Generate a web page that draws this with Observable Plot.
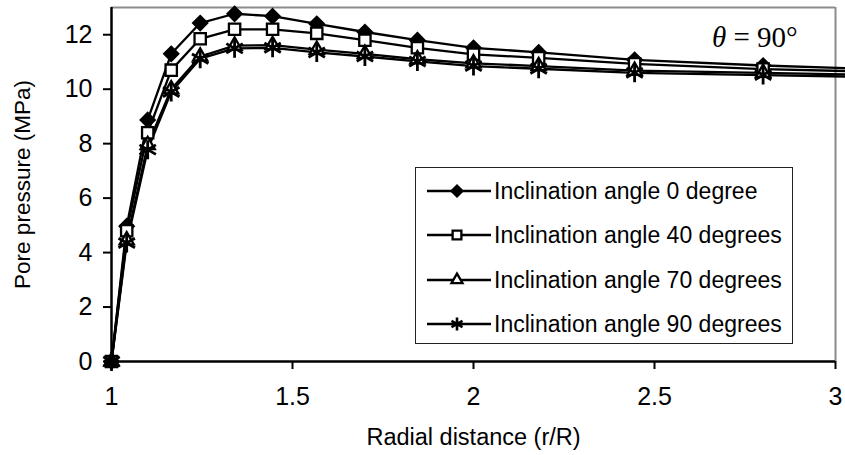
<!DOCTYPE html>
<html>
<head>
<meta charset="utf-8">
<script src="https://cdn.jsdelivr.net/npm/d3@7"></script>
<script src="https://cdn.jsdelivr.net/npm/@observablehq/plot@0.6"></script>
<style>
  html, body { margin: 0; padding: 0; background: white; overflow: hidden; }
  #wrap { position: relative; width: 845px; height: 455px; }
  #legend { position: absolute; left: 415px; top: 167px; width: 378px; height: 177px;
            border: 1px solid #222; background: white; box-sizing: border-box;
            font-family: "Liberation Sans", Arial, sans-serif; font-size: 23px; color: black; }
  .item { position: absolute; left: 11px; height: 30px; display: flex; align-items: center; white-space: nowrap; }
  .item svg { display: block; margin-right: 3px; }
  #theta { position: absolute; left: 712px; top: 21px; font-family: "Liberation Serif", "Times New Roman", serif;
           font-size: 29px; color: black; white-space: pre; }
</style>
</head>
<body>
<div id="wrap"></div>
<script>
// radial distance r/R
const radial = [1.0, 1.042, 1.1, 1.165, 1.245, 1.34, 1.445, 1.567, 1.70, 1.845, 2.0, 2.18, 2.445, 2.80, 3.3];
// pore pressure (MPa) for each inclination angle
const p0  = [0, 4.97, 8.87, 11.3, 12.43, 12.77, 12.68, 12.4, 12.1, 11.8, 11.52, 11.35, 11.08, 10.87, 10.65];
const p40 = [0, 4.8, 8.4, 10.7, 11.85, 12.2, 12.2, 12.05, 11.8, 11.52, 11.28, 11.15, 10.93, 10.74, 10.58];
const p70 = [0, 4.45, 7.95, 10.0, 11.2, 11.6, 11.62, 11.45, 11.3, 11.1, 10.95, 10.85, 10.68, 10.6, 10.48];
const p90 = [0, 4.35, 7.78, 9.9, 11.12, 11.5, 11.52, 11.35, 11.2, 11.02, 10.85, 10.75, 10.6, 10.52, 10.4];
const seriesNames = ["Inclination angle 0 degree", "Inclination angle 40 degrees", "Inclination angle 70 degrees", "Inclination angle 90 degrees"];
const xTicks = [1, 1.5, 2, 2.5, 3];
const yTicks = [0, 2, 4, 6, 8, 10, 12];

const seriesValues = [p0, p40, p70, p90];
const symbols = [
  {symbol: "diamond2", fill: "black", stroke: "black", r: 6.3},
  {symbol: "square2", fill: "white", stroke: "black", r: 7.2},
  {symbol: "triangle2", fill: "white", stroke: "black", r: 6.8},
  {symbol: "asterisk", fill: "none", stroke: "black", r: 9}
];
const data = seriesValues.map((vals, i) => radial.map((x, j) => ({x, y: vals[j], s: seriesNames[i]})));

const lineMarks = data.map(d => Plot.line(d, {x: "x", y: "y", stroke: "black", strokeWidth: 2.3}));
const dotMarks = data.map((d, i) => Plot.dot(d, {x: "x", y: "y", symbol: () => symbols[i].symbol,
  r: symbols[i].r, fill: symbols[i].fill, stroke: symbols[i].stroke, strokeWidth: i === 3 ? 2.8 : 2.3}));
const ordered = [0, 1, 2, 3];

const chart = Plot.plot({
  width: 845, height: 455,
  marginLeft: 111, marginRight: 10, marginTop: 7, marginBottom: 94,
  x: {domain: [1, 3]},
  y: {domain: [0, 13]},
  symbol: {type: "identity"},
  style: {fontFamily: "Liberation Sans, Arial, sans-serif", fontSize: "25px", color: "black", background: "white", overflow: "visible"},
  marks: [
    Plot.ruleY([13], {stroke: "#8c8c8c", strokeWidth: 2}),
    Plot.ruleX([3], {stroke: "#8c8c8c", strokeWidth: 2}),
    Plot.axisY({ticks: yTicks, tickSize: 8, tickPadding: 11, label: null, strokeWidth: 2, fontSize: 25}),
    Plot.axisX({ticks: xTicks, tickSize: 8, tickPadding: 18, label: null, strokeWidth: 2, fontSize: 25, tickFormat: d => String(d)}),
    ...ordered.map(i => lineMarks[i]),
    ...ordered.map(i => dotMarks[i]),
    Plot.ruleX([1], {strokeWidth: 2.5, stroke: "black"}),
    Plot.ruleY([0], {strokeWidth: 2.5, stroke: "black"}),
    Plot.dot([{x: radial[0], y: p0[0]}], {x: "x", y: "y", symbol: "diamond2", r: 6.3, fill: "black", stroke: "black"}),
    Plot.text(["Pore pressure (MPa)"], {frameAnchor: "left", dx: -89, rotate: -90, textAnchor: "middle", lineAnchor: "middle", fontSize: 22.5, fill: "black"}),
    Plot.text(["Radial distance (r/R)"], {frameAnchor: "bottom", dy: 76, textAnchor: "middle", lineAnchor: "middle", fontSize: 23.5, fill: "black"})
  ]
});
const wrap = document.getElementById("wrap");
wrap.appendChild(chart);

const th = document.createElement("div");
th.id = "theta";
th.innerHTML = "<i>θ</i> = 90°";
wrap.appendChild(th);

const legend = document.createElement("div");
legend.id = "legend";
const tops = [8, 52, 97, 141];
seriesNames.forEach((name, i) => {
  const item = document.createElement("div");
  item.className = "item";
  item.style.top = tops[i] + "px";
  const svg = d3.create("svg").attr("width", 64).attr("height", 30);
  svg.append("line").attr("x1", 0).attr("x2", 64).attr("y1", 15).attr("y2", 15).attr("stroke", "black").attr("stroke-width", 2.3);
  const symMap = {diamond2: d3.symbolDiamond2, square2: d3.symbolSquare2, triangle2: d3.symbolTriangle2, asterisk: d3.symbolAsterisk};
  const s = symbols[i];
  svg.append("path").attr("transform", "translate(30,15)")
    .attr("d", d3.symbol(symMap[s.symbol], Math.PI * s.r * s.r * (i === 3 ? 0.45 : 0.6))())
    .attr("fill", s.fill).attr("stroke", s.stroke).attr("stroke-width", i === 3 ? 2.6 : 2.3);
  item.appendChild(svg.node());
  const t = document.createElement("span");
  t.textContent = name;
  item.appendChild(t);
  legend.appendChild(item);
});
wrap.appendChild(legend);
</script>
</body>
</html>
